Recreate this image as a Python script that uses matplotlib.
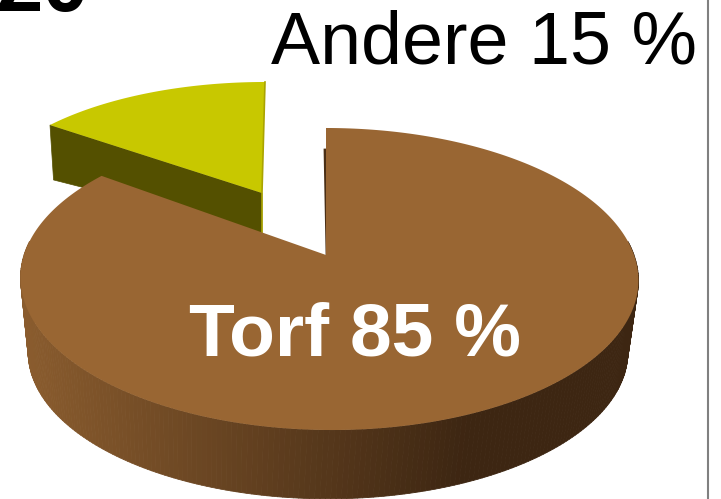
import numpy as np
import matplotlib
matplotlib.use("Agg")
from matplotlib import pyplot as plt
from matplotlib.collections import PolyCollection
from matplotlib.colors import to_rgb

labels = ["Torf", "Andere"]
shares = [85, 15]
corner_number = "20"

plt.rcParams['font.family'] = ['Liberation Sans', 'DejaVu Sans']


def project(theta, x0, y0, bx, ay, k, skew=0.0):
    # theta: clockwise from the back of the disc, perspective squeeze by k
    u = np.sin(theta)
    v = np.cos(theta)
    s = 1 + k * v
    return x0 + bx * u / s + skew * v, y0 - ay * v / s


fig = plt.figure(figsize=(7.21, 4.99), dpi=100)
ax = fig.add_axes([0, 0, 1, 1])
ax.set_xlim(0, 721)
ax.set_ylim(499, 0)
ax.axis("off")

torf_end = 2 * np.pi * shares[0] / sum(shares)

# small slice, pulled out
t = np.linspace(torf_end, 2 * np.pi, 60)
sx, sy = project(t, 262, 193, 281, 123, 0.108, skew=3)
bx0, by0 = project(torf_end, 262, 233, 274, 96, 0.108)
ax.fill([sx[0], 262, 262, bx0], [sy[0], 193, 233, by0], color="#545000", lw=0.5, zorder=1)
ax.fill(np.r_[sx, 262], np.r_[sy, 193], color="#c8c800", lw=0, zorder=2)
ax.plot([sx[-1], 262, 262], [sy[-1], 193, 233], color="#aaa400", lw=1.2, zorder=2)

# wall of the big slice, shaded left to right
tw = np.linspace(np.pi * 0.47, np.pi * 1.53, 220)
tx, ty = project(tw, 329, 255, 305, 147.2, 0.159, skew=-3)
lx, ly = project(tw, 328, 329, 296, 142.8, 0.159)
c_left = np.array(to_rgb("#8a5c2e"))
c_right = np.array(to_rgb("#3d2612"))
quads = []
cols = []
for i in range(len(tw) - 1):
    quads.append([(tx[i], ty[i]), (tx[i + 1], ty[i + 1]), (lx[i + 1], ly[i + 1]), (lx[i], ly[i])])
    f = min(max((460 - 0.5 * (lx[i] + lx[i + 1])) / 432, 0), 1)
    cols.append(c_right + (c_left - c_right) * f)
ax.add_collection(PolyCollection(quads, facecolors=cols, edgecolors=cols, linewidths=0.6, zorder=3))

# top of the big slice
t = np.linspace(0, torf_end, 300)
px, py = project(t, 329, 255, 305, 147.2, 0.159, skew=-3)
ax.plot([325, 327], [150, 255], color="#4a2f16", lw=2, zorder=3)
ax.fill(np.r_[px, 326], np.r_[py, 255], color="#996633", lw=0, zorder=4)

ax.text(271, 63, f"{labels[1]} {shares[1]} %", fontsize=53, color="black", va="baseline", zorder=5)
ax.text(189, 356, f"{labels[0]} {shares[0]} %", fontsize=54, color="white", weight="bold",
        va="baseline", zorder=5)
ax.text(-4, 11, corner_number, fontsize=60, color="black", weight="bold", va="baseline", zorder=5)

ax.plot([708, 708], [0, 499], color="#808080", lw=1.5, zorder=5)

fig.savefig("out.png", dpi=100)
